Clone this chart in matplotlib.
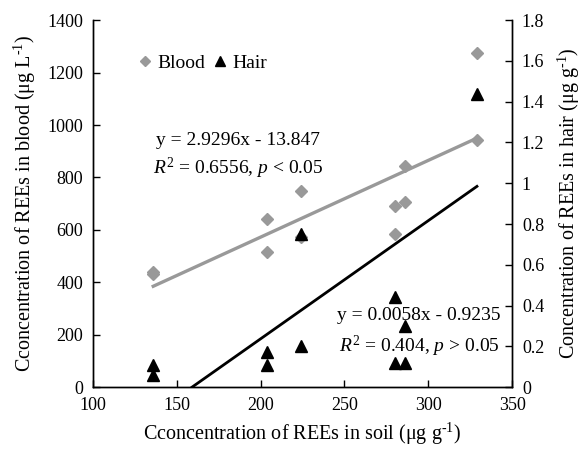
import matplotlib
matplotlib.use('Agg')
import matplotlib.pyplot as plt
import numpy as np

plt.rcParams['font.family'] = 'serif'
plt.rcParams['font.serif'] = ['Liberation Serif', 'DejaVu Serif']
plt.rcParams['font.size'] = 13
plt.rcParams['mathtext.fontset'] = 'custom'
plt.rcParams['mathtext.rm'] = 'Liberation Serif'
plt.rcParams['mathtext.it'] = 'Liberation Serif:italic'

# soil concentration (x) and blood / hair concentrations
blood_soil = [136, 136, 204, 204, 224, 224, 280, 280, 286, 286, 329, 329]
blood_vals = [440, 430, 641, 516, 748, 573, 690, 584, 844, 707, 1275, 942]
hair_soil = [136, 136, 204, 204, 224, 224, 280, 280, 286, 286, 329]
hair_vals = [0.11, 0.06, 0.17, 0.11, 0.75, 0.20, 0.44, 0.12, 0.30, 0.12, 1.44]

# regression coefficients printed on the chart
blood_fit = (2.9296, -13.847)
hair_fit = (0.0058, -0.9235)

GRAY = '#999999'

fig, ax = plt.subplots(figsize=(5.84, 4.49), dpi=100)
fig.subplots_adjust(left=0.159, right=0.877, bottom=0.138, top=0.955)
ax2 = ax.twinx()

# blood (left axis)
xb = np.array([min(blood_soil), max(blood_soil)])
ax.plot(xb, blood_fit[0] * xb + blood_fit[1], color=GRAY, lw=2.4, zorder=2)
hb, = ax.plot(blood_soil, blood_vals, 'D', color=GRAY, ms=6.5, mec=GRAY,
              ls='none', zorder=3, label='Blood')

# hair (right axis)
xh = np.array([-hair_fit[1] / hair_fit[0], max(hair_soil)])
ax2.plot(xh, hair_fit[0] * xh + hair_fit[1], color='black', lw=2.0, zorder=2)
hh, = ax2.plot(hair_soil, hair_vals, '^', color='black', ms=8,
               ls='none', zorder=3, label='Hair')

ax.set_xlim(100, 350)
ax.set_ylim(0, 1400)
ax2.set_ylim(0, 1.8)
ax.set_xticks(np.arange(100, 351, 50))
ax.set_yticks(np.arange(0, 1401, 200))
ax2.set_yticks(np.arange(0, 1.81, 0.2))
ax2.yaxis.set_major_formatter(plt.FuncFormatter(lambda v, _: f'{v:.1f}'.rstrip('0').rstrip('.') if v else '0'))

for a in (ax, ax2):
    a.spines['top'].set_visible(False)
    a.tick_params(direction='in', length=5, width=1, labelsize=13, pad=7)
    for s in a.spines.values():
        s.set_linewidth(1.0)
ax.tick_params(axis='x', pad=7)

ax.set_xlabel(r'Cconcentration of REEs in soil (μg g$^{\text{-1}}$)', fontsize=14.5, labelpad=5)
ax.set_ylabel(r'Cconcentration of REEs in blood (μg L$^{\text{-1}}$)', fontsize=14.5, labelpad=7)
ax2.set_ylabel(r'Concentration of REEs in hair (μg g$^{\text{-1}}$)', fontsize=14.5, labelpad=8)

ax.legend(handles=[hb, hh], loc='upper left', bbox_to_anchor=(0.06, 0.955),
          ncol=2, frameon=False, handletextpad=0.1, columnspacing=0.3,
          handlelength=1.0, markerscale=0.85, fontsize=14)

ax.text(0.346, 0.673, 'y = 2.9296x - 13.847', transform=ax.transAxes,
        ha='center', va='center', fontsize=14)
ax.text(0.346, 0.597, r'$R^2$ = 0.6556, $p$ < 0.05', transform=ax.transAxes,
        ha='center', va='center', fontsize=14)
ax.text(0.778, 0.196, 'y = 0.0058x - 0.9235', transform=ax.transAxes,
        ha='center', va='center', fontsize=14)
ax.text(0.778, 0.112, r'$R^2$ = 0.404, $p$ > 0.05', transform=ax.transAxes,
        ha='center', va='center', fontsize=14)

plt.savefig('out.png', dpi=100)
plt.close()
